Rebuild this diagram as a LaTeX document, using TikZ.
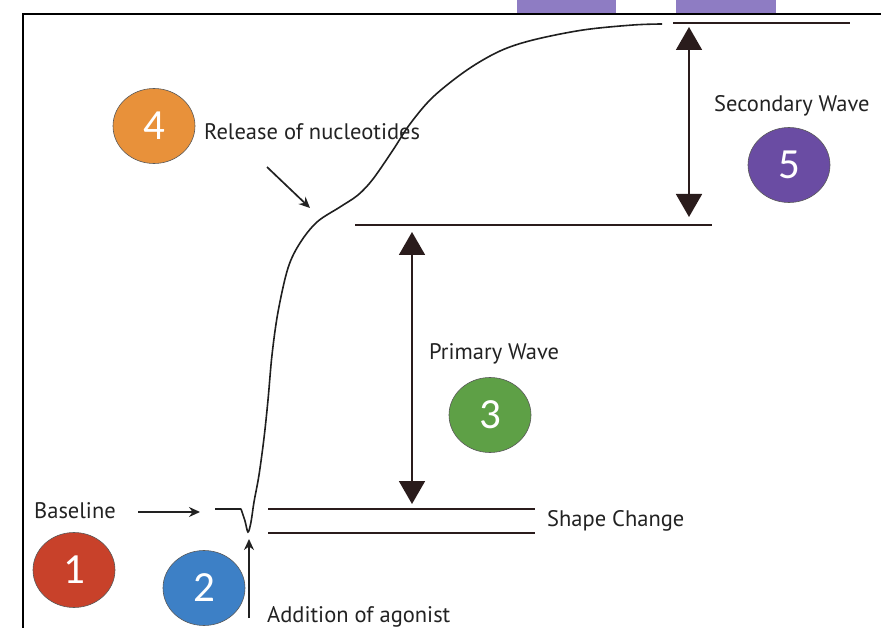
\documentclass[tikz,border=0pt]{standalone}
\usepackage{fontspec}
\setmainfont{PT Sans}
\newfontfamily\numfont{Carlito}
\usetikzlibrary{arrows.meta,shapes.geometric}
\definecolor{cred}{HTML}{C8412A}
\definecolor{cblue}{HTML}{3D80C6}
\definecolor{cgreen}{HTML}{5EA046}
\definecolor{corange}{HTML}{E8913A}
\definecolor{cpurple}{HTML}{6A4CA3}
\definecolor{lpurple}{HTML}{8E7CC3}
\definecolor{txt}{HTML}{222222}
\definecolor{lvl}{HTML}{2A1C1C}
\begin{document}
\begin{tikzpicture}[x=1pt,y=-1pt,
  lbl/.style={font=\fontsize{22.5}{26}\selectfont, text=txt, inner sep=0pt, anchor=west},
  badge/.style={ellipse, draw=black!65, line width=0.6pt, minimum width=82pt, minimum height=75pt, inner sep=0pt, text=white, font=\numfont\fontsize{43}{43}\selectfont},
  level/.style={line width=2.5pt, draw=lvl},
  bigarrow/.style={line width=1.8pt, draw=lvl, {Triangle[width=26pt,length=23pt]}-{Triangle[width=26pt,length=23pt]}},
  smallarrow/.style={line width=1.7pt, draw=txt, -{Stealth[length=11pt,width=10pt]}},
  curve/.style={line width=1.6pt, draw=black!88}
]
\useasboundingbox (0,0) rectangle (881,628);
% frame and tabs
\fill[lpurple] (517,0) rectangle (616,13);
\fill[lpurple] (676,0) rectangle (776,13);
\draw[line width=1.8pt] (23,628) -- (23,14) -- (881,14);

% level lines
\coordinate (t1) at (673,23); \coordinate (t2) at (850,23);
\coordinate (m1) at (355,225); \coordinate (m2) at (712,225);
\coordinate (b1) at (268,509); \coordinate (b2) at (535,509);
\coordinate (c1) at (268,533); \coordinate (c2) at (535,533);
\draw[level] (t1) -- (t2);
\draw[level] (m1) -- (m2);
\draw[level] (b1) -- (b2);
\draw[level] (c1) -- (c2);

% curve
\draw[curve] (215,509) -- (241,509)
  plot[smooth, tension=0.55] coordinates {(241,509) (245,521) (248,532) (251,522) (254,502) (259,475) (264,438) (268,400) (272,355) (278,312) (288,268) (300,243) (317,222) (340,207) (358,195) (373,179) (393,150) (410,124) (433,97) (467,70) (500,51) (533,40) (583,30) (633,25) (662,24)};

% wave arrows
\coordinate (s1) at (689,27); \coordinate (s2) at (689,217);
\coordinate (p1) at (412,232); \coordinate (p2) at (412,504);
\draw[bigarrow] (s1) -- (s2);
\draw[bigarrow] (p1) -- (p2);

% small arrows
\coordinate (ba1) at (138,512); \coordinate (ba2) at (200,512);
\draw[smallarrow] (ba1) -- (ba2);
\coordinate (ra1) at (267,167); \coordinate (ra2) at (310,208);
\draw[smallarrow] (ra1) -- (ra2);
\coordinate (aa1) at (249,618); \coordinate (aa2) at (249,539);
\draw[smallarrow] (aa1) -- (aa2);

% labels
\node[lbl] (baseline) at (34,511) {Baseline};
\node[lbl] (release) at (204,132) {Release of nucleotides};
\node[lbl] (secondary) at (714,106) {Secondary Wave};
\node[lbl] (primary) at (429,354) {Primary Wave};
\node[lbl] (shape) at (547,521) {Shape Change};
\node[lbl] (agonist) at (267,617) {Addition of agonist};

% badges
\node[badge, fill=cred] (n1) at (74,570) {1};
\node[badge, fill=cblue] (n2) at (204,588) {2};
\node[badge, fill=cgreen] (n3) at (490,415) {3};
\node[badge, fill=corange] (n4) at (154,126) {4};
\node[badge, fill=cpurple] (n5) at (789,165) {5};
\end{tikzpicture}
\end{document}
